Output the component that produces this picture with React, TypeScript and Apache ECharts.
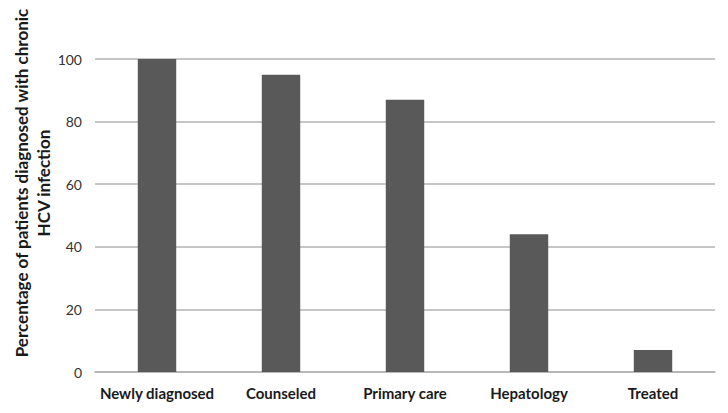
import React, { useEffect, useRef } from "react";
import * as echarts from "echarts";

const categories = ["Newly diagnosed", "Counseled", "Primary care", "Hepatology", "Treated"];
const values = [100, 95, 87, 44, 7];
const yTicks = { min: 0, max: 100, interval: 20 };
const yTitleLine1 = "Percentage of patients diagnosed with chronic";
const yTitleLine2 = "HCV infection";

export default function App() {
  const ref = useRef<HTMLDivElement>(null);
  useEffect(() => {
    if (!ref.current) return;
    const chart = echarts.init(ref.current, null, { renderer: "svg" });
    const font = "Lato, 'Open Sans', sans-serif";
    chart.setOption({
      animation: false,
      backgroundColor: "#ffffff",
      grid: { left: 95, right: 13, top: 59, bottom: 41 },
      xAxis: {
        type: "category",
        data: categories,
        axisTick: { show: false },
        axisLine: { lineStyle: { color: "#b3b3b3", width: 1.5 } },
        axisLabel: { interval: 0, color: "#1a1a1a", fontWeight: "bold", fontSize: 15, fontFamily: font, margin: 13 },
      },
      yAxis: {
        type: "value",
        min: yTicks.min,
        max: yTicks.max,
        interval: yTicks.interval,
        axisLine: { show: false },
        axisTick: { show: false },
        splitLine: { lineStyle: { color: "#b3b3b3", width: 1.5 } },
        axisLabel: { color: "#333333", fontSize: 14, fontFamily: font, margin: 13 },
      },
      graphic: [
        {
          type: "text",
          x: 21,
          y: 183,
          rotation: Math.PI / 2,
          style: {
            text: yTitleLine1,
            font: `bold 17px ${font}`,
            fill: "#1a1a1a",
            align: "center",
            verticalAlign: "middle",
          },
        },
        {
          type: "text",
          x: 43,
          y: 183,
          rotation: Math.PI / 2,
          style: {
            text: yTitleLine2,
            font: `bold 17px ${font}`,
            fill: "#1a1a1a",
            align: "center",
            verticalAlign: "middle",
          },
        },
      ],
      series: [
        {
          type: "bar",
          data: values,
          barWidth: "31%",
          itemStyle: { color: "#595959" },
        },
      ],
    });
    return () => chart.dispose();
  }, []);
  return <div ref={ref} style={{ width: 728, height: 413, position: "absolute", left: 0, top: 0 }} />;
}
